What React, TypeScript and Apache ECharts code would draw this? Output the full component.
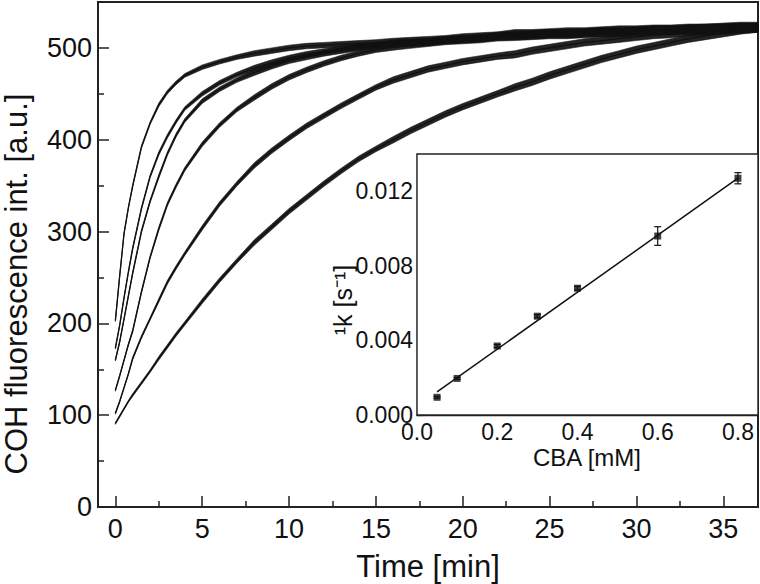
import React, { useEffect, useRef } from "react";
import * as echarts from "echarts";

// ---------- main panel data (time in min, fluorescence in a.u.) ----------
const TIME = [0, 0.25, 0.5, 0.75, 1, 1.5, 2, 2.5, 3, 3.5, 4, 5, 6, 7, 8, 9, 10, 11, 12, 13, 14, 15, 16, 17, 18, 19, 20, 21, 22, 23, 24, 25, 26, 27, 28, 29, 30, 31, 32, 33, 34, 35, 36, 37];
const CURVE_1 = [203, 252, 298, 326, 350, 392, 418, 438, 452, 462, 470, 479, 485, 490, 494, 497, 500, 502, 503, 504, 505, 506, 507, 508, 509, 510, 512, 513, 514, 516, 516, 517, 518, 518, 519, 520, 520, 521, 521, 522, 522, 523, 524, 524];
const CURVE_2 = [173, 198, 228, 256, 282, 325, 360, 385, 404, 420, 434, 450, 462, 471, 478, 484, 489, 493, 496, 499, 501, 503, 505, 506, 507, 509, 510, 511, 513, 514, 515, 516, 516, 517, 518, 518, 519, 520, 520, 521, 522, 522, 523, 523];
const CURVE_3 = [160, 180, 205, 230, 255, 300, 333, 360, 385, 405, 421, 442, 455, 465, 473, 480, 486, 490, 494, 497, 500, 502, 504, 505, 506, 508, 509, 510, 512, 513, 514, 515, 515, 516, 517, 517, 518, 519, 519, 520, 521, 521, 522, 522];
const CURVE_4 = [127, 143, 160, 177, 192, 234, 272, 303, 330, 350, 368, 395, 416, 433, 446, 458, 468, 476, 483, 489, 494, 498, 501, 503, 505, 507, 508, 509, 511, 512, 513, 514, 514, 515, 516, 516, 517, 518, 518, 519, 520, 520, 521, 521];
const CURVE_5 = [102, 115, 130, 145, 162, 185, 205, 225, 245, 261, 276, 304, 330, 352, 372, 388, 402, 415, 426, 437, 447, 457, 465, 471, 477, 481, 485, 488, 491, 493, 497, 500, 503, 506, 508, 510, 512, 514, 515, 517, 518, 519, 520, 521];
const CURVE_6 = [91, 99, 107, 115, 122, 135, 148, 162, 175, 188, 200, 224, 247, 268, 288, 305, 322, 337, 352, 366, 379, 390, 400, 410, 419, 428, 436, 443, 450, 457, 463, 470, 476, 482, 488, 493, 498, 502, 506, 510, 513, 516, 519, 521];
const CURVES = [CURVE_1, CURVE_2, CURVE_3, CURVE_4, CURVE_5, CURVE_6];
// half-width of the visible noise band around each trace (a.u.), per TIME point
const NOISE_HALF = [1, 1, 1, 1, 1.5, 1.5, 1.5, 2, 2, 2, 2, 2.5, 2.5, 2.5, 3, 3, 3, 3, 3, 3, 3, 3, 3.5, 3.5, 3.5, 3.5, 3.5, 3.5, 3.5, 4, 4, 4, 4, 4, 4, 4, 4, 4, 4, 4, 4, 4, 4, 4];

const MAIN_X_TICKS = [0, 5, 10, 15, 20, 25, 30, 35];
const MAIN_X_MINOR = [2.5, 7.5, 12.5, 17.5, 22.5, 27.5, 32.5];
const MAIN_Y_TICKS = [0, 100, 200, 300, 400, 500];
const MAIN_Y_MINOR = [50, 150, 250, 350, 450];

// ---------- inset data (CBA in mM, rate constant in 1/s) ----------
const CBA = [0.05, 0.1, 0.2, 0.3, 0.4, 0.6, 0.8];
const K_RATE = [0.00095, 0.00196, 0.0037, 0.0053, 0.0068, 0.0096, 0.0127];
const K_ERR = [0.00005, 0.00005, 0.00008, 0.00008, 0.0001, 0.0005, 0.0003];
const FIT_X = [0.05, 0.8];
const FIT_Y = [0.00124, 0.0127];

const INSET_X_TICKS = [0, 0.2, 0.4, 0.6, 0.8];
const INSET_X_MINOR = [0.1, 0.3, 0.5, 0.7];
const INSET_Y_TICKS = [0, 0.004, 0.008, 0.012];
const INSET_Y_MINOR = [0.002, 0.006, 0.01];

const FONT = "'Liberation Sans', Arial, Helvetica, sans-serif";
const INK = "#111";

export default function App() {
  const ref = useRef<HTMLDivElement | null>(null);

  useEffect(() => {
    if (!ref.current) return;
    const chart = echarts.init(ref.current, null, { renderer: "svg" });

    const lineSeries = CURVES.map((c, k) => ({
      name: "curve" + (k + 1),
      type: "line",
      xAxisIndex: 0,
      yAxisIndex: 0,
      showSymbol: false,
      symbol: "none",
      lineStyle: { color: INK, width: 1.3 },
      data: TIME.map((t, i) => [t, c[i]]),
      z: 3,
    }));

    const bandSeries = {
      name: "noise",
      type: "custom",
      xAxisIndex: 0,
      yAxisIndex: 0,
      silent: true,
      data: CURVES.map((_, k) => [TIME[0], CURVES[k][0], k]),
      encode: { x: 0, y: 1 },
      renderItem: (params: any, api: any) => {
        const k = api.value(2);
        const c = CURVES[k];
        const upper = TIME.map((t, i) => api.coord([t, c[i] + NOISE_HALF[i]]));
        const lower = TIME.map((t, i) => api.coord([t, c[i] - NOISE_HALF[i]])).reverse();
        return {
          type: "polygon",
          shape: { points: upper.concat(lower) },
          style: { fill: "#111", opacity: 0.92, stroke: "#111", lineWidth: 0.6 },
        };
      },
      z: 2,
    };

    const option: any = {
      animation: false,
      backgroundColor: "#fff",
      grid: [
        { left: 98, top: 2, width: 660, height: 505, show: true, borderColor: "#222", borderWidth: 2, backgroundColor: "transparent" },
        { left: 417, top: 154, width: 341, height: 261, show: true, borderColor: "#222", borderWidth: 1.4, backgroundColor: "#fff", z: 4 },
      ],
      xAxis: [
        {
          gridIndex: 0, type: "value", position: "bottom", min: -1, max: 37,
          axisLine: { show: true, onZero: false, lineStyle: { color: "#222", width: 2 } },
          axisTick: { show: true, inside: true, length: 11, customValues: MAIN_X_TICKS, lineStyle: { color: "#222", width: 1.5 } },
          axisLabel: { show: true, customValues: MAIN_X_TICKS, margin: 8, fontSize: 27, fontFamily: FONT, color: INK },
          splitLine: { show: false },
        },
        {
          gridIndex: 0, type: "value", position: "bottom", min: -1, max: 37,
          axisLine: { show: false, onZero: false },
          axisTick: { show: true, inside: true, length: 6, customValues: MAIN_X_MINOR, lineStyle: { color: "#222", width: 1.5 } },
          axisLabel: { show: false },
          splitLine: { show: false },
        },
        {
          gridIndex: 1, type: "value", position: "bottom", min: 0, max: 0.85,
          axisLine: { show: true, onZero: false, lineStyle: { color: "#222", width: 1.4 } },
          axisTick: { show: true, inside: true, length: 5, customValues: INSET_X_TICKS, lineStyle: { color: "#222", width: 1.2 } },
          axisLabel: { show: true, customValues: INSET_X_TICKS, margin: 5, fontSize: 23, fontFamily: FONT, color: INK, formatter: (v: number) => v.toFixed(1) },
          splitLine: { show: false },
        },
        {
          gridIndex: 1, type: "value", position: "bottom", min: 0, max: 0.85,
          axisLine: { show: false, onZero: false },
          axisTick: { show: true, inside: true, length: 3, customValues: INSET_X_MINOR, lineStyle: { color: "#222", width: 1.2 } },
          axisLabel: { show: false },
          splitLine: { show: false },
        },
      ],
      yAxis: [
        {
          gridIndex: 0, type: "value", position: "left", min: 0, max: 550,
          axisLine: { show: true, onZero: false, lineStyle: { color: "#222", width: 2 } },
          axisTick: { show: true, inside: true, length: 11, customValues: MAIN_Y_TICKS, lineStyle: { color: "#222", width: 1.5 } },
          axisLabel: { show: true, customValues: MAIN_Y_TICKS, margin: 6, fontSize: 27, fontFamily: FONT, color: INK },
          splitLine: { show: false },
        },
        {
          gridIndex: 0, type: "value", position: "left", min: 0, max: 550,
          axisLine: { show: false, onZero: false },
          axisTick: { show: true, inside: true, length: 6, customValues: MAIN_Y_MINOR, lineStyle: { color: "#222", width: 1.5 } },
          axisLabel: { show: false },
          splitLine: { show: false },
        },
        {
          gridIndex: 1, type: "value", position: "left", min: 0, max: 0.014,
          axisLine: { show: true, onZero: false, lineStyle: { color: "#222", width: 1.4 } },
          axisTick: { show: true, inside: true, length: 6, customValues: INSET_Y_TICKS, lineStyle: { color: "#222", width: 1.2 } },
          axisLabel: { show: true, customValues: INSET_Y_TICKS, margin: 4, fontSize: 23, fontFamily: FONT, color: INK, formatter: (v: number) => v.toFixed(3) },
          splitLine: { show: false },
        },
        {
          gridIndex: 1, type: "value", position: "left", min: 0, max: 0.014,
          axisLine: { show: false, onZero: false },
          axisTick: { show: true, inside: true, length: 4, customValues: INSET_Y_MINOR, lineStyle: { color: "#222", width: 1.2 } },
          axisLabel: { show: false },
          splitLine: { show: false },
        },
      ],
      series: [
        bandSeries,
        ...lineSeries,
        {
          name: "fit",
          type: "line",
          xAxisIndex: 2,
          yAxisIndex: 2,
          showSymbol: false,
          symbol: "none",
          lineStyle: { color: INK, width: 1.5 },
          data: FIT_X.map((x, i) => [x, FIT_Y[i]]),
          z: 6,
        },
        {
          name: "errors",
          type: "custom",
          xAxisIndex: 2,
          yAxisIndex: 2,
          data: CBA.map((x, i) => [x, K_RATE[i], K_ERR[i]]),
          renderItem: (params: any, api: any) => {
            const x = api.value(0);
            const y = api.value(1);
            const e = api.value(2);
            const top = api.coord([x, y + e]);
            const bot = api.coord([x, y - e]);
            const hw = 3.5;
            const st = { stroke: INK, lineWidth: 1.2 };
            return {
              type: "group",
              children: [
                { type: "line", shape: { x1: top[0], y1: top[1], x2: bot[0], y2: bot[1] }, style: st },
                { type: "line", shape: { x1: top[0] - hw, y1: top[1], x2: top[0] + hw, y2: top[1] }, style: st },
                { type: "line", shape: { x1: bot[0] - hw, y1: bot[1], x2: bot[0] + hw, y2: bot[1] }, style: st },
              ],
            };
          },
          z: 6,
        },
        {
          name: "k",
          type: "scatter",
          xAxisIndex: 2,
          yAxisIndex: 2,
          symbol: "rect",
          symbolSize: 7,
          itemStyle: { color: INK },
          data: CBA.map((x, i) => [x, K_RATE[i]]),
          z: 7,
        },
      ],
      graphic: [
        {
          type: "text", x: 16, y: 284, rotation: Math.PI / 2,
          style: { text: "COH fluorescence int. [a.u.]", font: `31px ${FONT}`, fill: INK, align: "center", verticalAlign: "middle" },
        },
        {
          type: "text", x: 428, y: 566,
          style: { text: "Time [min]", font: `31px ${FONT}`, fill: INK, align: "center", verticalAlign: "middle" },
        },
        {
          type: "text", x: 343, y: 300, rotation: Math.PI / 2,
          style: { text: "\u00B9k [s\u207B\u00B9]", font: `25px ${FONT}`, fill: INK, align: "center", verticalAlign: "middle" },
        },
        {
          type: "text", x: 587, y: 457,
          style: { text: "CBA [mM]", font: `24px ${FONT}`, fill: INK, align: "center", verticalAlign: "middle" },
        },
      ],
    };

    chart.setOption(option);
    return () => chart.dispose();
  }, []);

  return <div ref={ref} style={{ position: "fixed", left: 0, top: 0, width: 760, height: 584 }} />;
}
